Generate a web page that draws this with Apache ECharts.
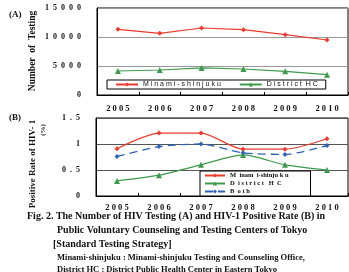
<!DOCTYPE html>
<html>
<head>
<meta charset="utf-8">
<script src="https://cdn.jsdelivr.net/npm/echarts@6/dist/echarts.min.js"></script>
<style>
  html, body { margin: 0; padding: 0; background: #fff; }
  #chart { width: 349px; height: 272px; }
</style>
</head>
<body>
<div id="chart"></div>
<script>
  const years = ['2005', '2006', '2007', '2008', '2009', '2010'];
  // (A) number of testing
  const testMinami = [11330, 10630, 11550, 11260, 10400, 9480];
  const testDistrict = [4140, 4310, 4660, 4480, 4080, 3500];
  // (B) positive rate (%)
  const rateMinami = [0.91, 1.21, 1.21, 0.90, 0.90, 1.10];
  const rateDistrict = [0.29, 0.40, 0.60, 0.79, 0.60, 0.50];
  const rateBoth = [0.76, 0.95, 1.0, 0.83, 0.80, 0.97];
  const ticksA = [0, 5000, 10000, 15000];
  const ticksB = [0, 0.5, 1, 1.5];

  const serif = '"Liberation Serif", "DejaVu Serif", serif';
  const spaced = v => String(v).split('').join(' ');
  const wide = v => String(v).split('').join('\u2002');
  const red = '#ee3a2c', green = '#3d9a4c', blue = '#2b63b8';

  const chart = echarts.init(document.getElementById('chart'));

  const xAxisBase = {
    type: 'category',
    data: years,
    axisLine: { lineStyle: { color: '#000', width: 1 } },
    axisTick: { show: true, inside: true, length: 3, lineStyle: { color: '#000' } },
    axisLabel: {
      color: '#111', fontFamily: serif, fontWeight: 'bold', fontSize: 8.5,
      formatter: v => spaced(v)
    },
    splitLine: { show: false }
  };

  const option = {
    animation: false,
    grid: [
      { left: 97, right: 1, top: 8, height: 87, show: true, borderColor: '#000', borderWidth: 1 },
      { left: 96, right: 1, top: 118, height: 78, show: true, borderColor: '#000', borderWidth: 1 }
    ],
    xAxis: [
      Object.assign({}, xAxisBase, { gridIndex: 0, axisLabel: Object.assign({}, xAxisBase.axisLabel, { margin: 9 }) }),
      Object.assign({}, xAxisBase, { gridIndex: 1, axisLabel: Object.assign({}, xAxisBase.axisLabel, { margin: 7 }) })
    ],
    yAxis: [
      {
        gridIndex: 0, type: 'value', min: ticksA[0], max: ticksA[ticksA.length - 1], interval: 5000,
        axisLine: { show: true, lineStyle: { color: '#000' } },
        axisTick: { show: false },
        axisLabel: { color: '#111', fontFamily: serif, fontWeight: 'bold', fontSize: 8, margin: 16, formatter: v => wide(v) },
        splitLine: { lineStyle: { color: '#999', width: 1 } }
      },
      {
        gridIndex: 1, type: 'value', min: ticksB[0], max: ticksB[ticksB.length - 1], interval: 0.5,
        axisLine: { show: true, lineStyle: { color: '#000' } },
        axisTick: { show: false },
        axisLabel: { color: '#111', fontFamily: serif, fontWeight: 'bold', fontSize: 8, margin: 16, formatter: v => wide(v) },
        splitLine: { lineStyle: { color: '#555', width: 1 } }
      }
    ],
    legend: [
      {
        data: [{ name: 'Minami-shinjuku A' }, { name: 'District HC A' }],
        left: 107, top: 80, width: 240, orient: 'horizontal', itemGap: 18,
        itemWidth: 22, itemHeight: 5, padding: [1, 8, 1, 8],
        borderColor: '#000', borderWidth: 1, backgroundColor: '#fff',
        textStyle: { fontFamily: '"Liberation Sans", sans-serif', fontSize: 7, color: '#111' },
        formatter: n => n === 'Minami-shinjuku A' ? 'M i n a m i - s h i n j u k u' : 'D i s t r i c t  H C'
      },
      {
        data: [{ name: 'Minami-shinjuku B' }, { name: 'District HC B' }, { name: 'Both' }],
        left: 200, top: 171, orient: 'vertical', itemGap: 1,
        itemWidth: 20, itemHeight: 5, padding: [1, 22, 1, 4],
        borderColor: '#000', borderWidth: 1, backgroundColor: '#fff',
        textStyle: { fontFamily: serif, fontWeight: 'bold', fontSize: 6.5, color: '#111' },
        formatter: n => n === 'Minami-shinjuku B' ? 'M  inam  i-shinju k u' : (n === 'District HC B' ? 'D  i s t r i c t   H  C' : 'B  o t h')
      }
    ],
    graphic: [
      { type: 'text', left: 9, top: 10, style: { text: '(A)', font: 'bold 9px ' + serif, fill: '#111' } },
      { type: 'text', left: 9, top: 113, style: { text: '(B)', font: 'bold 9px ' + serif, fill: '#111' } },
      { type: 'text', x: 33, y: 51, rotation: Math.PI / 2, style: { text: 'Number  of  Testing', font: 'bold 9.5px ' + serif, fill: '#111', align: 'center', verticalAlign: 'middle' } },
      { type: 'text', x: 33, y: 164, rotation: Math.PI / 2, style: { text: 'Positive Rate of HIV- 1', font: 'bold 9px ' + serif, fill: '#111', align: 'center', verticalAlign: 'middle' } },
      { type: 'text', x: 43, y: 130, rotation: Math.PI / 2, style: { text: '(%)', font: 'bold 7px ' + serif, fill: '#111', align: 'center', verticalAlign: 'middle' } },
      { type: 'text', left: 27, top: 211, style: { text: 'Fig. 2. The Number of HIV Testing (A) and HIV-1 Positive Rate (B) in', font: 'bold 10px ' + serif, fill: '#111' } },
      { type: 'text', left: 57, top: 225, style: { text: 'Public Voluntary Counseling and Testing Centers of Tokyo', font: 'bold 10px ' + serif, fill: '#111' } },
      { type: 'text', left: 53, top: 239, style: { text: '[Standard Testing Strategy]', font: 'bold 10px ' + serif, fill: '#111' } },
      { type: 'text', left: 57, top: 253, style: { text: 'Minami-shinjuku : Minami-shinjuku Testing and Counseling Office,', font: 'bold 8.5px ' + serif, fill: '#111' } },
      { type: 'text', left: 57, top: 265, style: { text: 'District HC : District Public Health Center in Eastern Tokyo', font: 'bold 8.5px ' + serif, fill: '#111' } }
    ],
    series: [
      {
        name: 'Minami-shinjuku A', type: 'line', xAxisIndex: 0, yAxisIndex: 0, data: testMinami,
        color: red, symbol: 'diamond', symbolSize: 5, lineStyle: { width: 1.2 }
      },
      {
        name: 'District HC A', type: 'line', xAxisIndex: 0, yAxisIndex: 0, data: testDistrict,
        color: green, symbol: 'triangle', symbolSize: 6, lineStyle: { width: 1.2 }
      },
      {
        name: 'Minami-shinjuku B', type: 'line', xAxisIndex: 1, yAxisIndex: 1, data: rateMinami,
        color: red, symbol: 'diamond', symbolSize: 5, smooth: 0.25, lineStyle: { width: 1.2 }
      },
      {
        name: 'District HC B', type: 'line', xAxisIndex: 1, yAxisIndex: 1, data: rateDistrict,
        color: green, symbol: 'triangle', symbolSize: 6, smooth: 0.25, lineStyle: { width: 1.2 }
      },
      {
        name: 'Both', type: 'line', xAxisIndex: 1, yAxisIndex: 1, data: rateBoth,
        color: blue, symbol: 'diamond', symbolSize: 5, smooth: 0.25, lineStyle: { width: 1.3, type: [8, 5] }
      }
    ]
  };

  chart.setOption(option);
</script>
</body>
</html>
